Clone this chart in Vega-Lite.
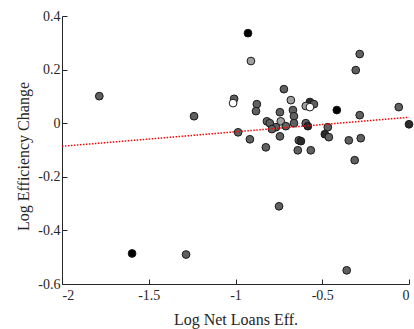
{
  "$schema": "https://vega.github.io/schema/vega-lite/v6.json",
  "width": 347,
  "height": 268,
  "autosize": "none",
  "padding": {"left": 62, "top": 16, "right": 5, "bottom": 45},
  "background": "white",
  "config": {
    "view": {"stroke": null},
    "font": "Liberation Serif",
    "axis": {
      "grid": false,
      "domainColor": "#262626",
      "tickColor": "#262626",
      "labelColor": "#262626",
      "titleColor": "#262626",
      "labelFont": "Liberation Serif",
      "titleFont": "Liberation Serif",
      "labelFontSize": 14,
      "titleFontSize": 16,
      "titleFontWeight": "normal",
      "tickSize": -5,
      "domainWidth": 1,
      "tickWidth": 1
    }
  },
  "datasets": {
    "pts": [
      {"x": -1.785, "y": 0.101, "shade": "mid"},
      {"x": -1.239, "y": 0.026, "shade": "mid"},
      {"x": -1.008, "y": 0.091, "shade": "mid"},
      {"x": -1.014, "y": 0.075, "shade": "white"},
      {"x": -0.985, "y": -0.034, "shade": "mid"},
      {"x": -0.928, "y": 0.336, "shade": "black"},
      {"x": -0.911, "y": 0.232, "shade": "light"},
      {"x": -0.284, "y": 0.258, "shade": "mid"},
      {"x": -0.307, "y": 0.198, "shade": "mid"},
      {"x": -0.721, "y": 0.127, "shade": "mid"},
      {"x": -0.681, "y": 0.086, "shade": "light"},
      {"x": -0.877, "y": 0.071, "shade": "mid"},
      {"x": -0.882, "y": 0.045, "shade": "mid"},
      {"x": -0.571, "y": 0.079, "shade": "dark"},
      {"x": -0.548, "y": 0.071, "shade": "mid"},
      {"x": -0.595, "y": 0.064, "shade": "light"},
      {"x": -0.571, "y": 0.060, "shade": "white"},
      {"x": -0.744, "y": 0.041, "shade": "mid"},
      {"x": -0.669, "y": 0.049, "shade": "mid"},
      {"x": -0.663, "y": 0.026, "shade": "mid"},
      {"x": -0.416, "y": 0.049, "shade": "black"},
      {"x": -0.059, "y": 0.060, "shade": "mid"},
      {"x": -0.284, "y": 0.030, "shade": "mid"},
      {"x": -0.819, "y": 0.007, "shade": "mid"},
      {"x": -0.802, "y": 0.000, "shade": "mid"},
      {"x": -0.739, "y": 0.007, "shade": "light"},
      {"x": -0.767, "y": -0.015, "shade": "mid"},
      {"x": -0.790, "y": -0.022, "shade": "mid"},
      {"x": -0.710, "y": -0.011, "shade": "mid"},
      {"x": -0.663, "y": 0.000, "shade": "mid"},
      {"x": -0.595, "y": 0.000, "shade": "mid"},
      {"x": -0.583, "y": -0.011, "shade": "dark"},
      {"x": -0.468, "y": -0.015, "shade": "mid"},
      {"x": 0.0, "y": -0.004, "shade": "dark"},
      {"x": -0.744, "y": -0.049, "shade": "mid"},
      {"x": -0.485, "y": -0.041, "shade": "dark"},
      {"x": -0.462, "y": -0.052, "shade": "mid"},
      {"x": -0.917, "y": -0.060, "shade": "mid"},
      {"x": -0.635, "y": -0.064, "shade": "mid"},
      {"x": -0.623, "y": -0.067, "shade": "dark"},
      {"x": -0.347, "y": -0.064, "shade": "mid"},
      {"x": -0.278, "y": -0.056, "shade": "mid"},
      {"x": -0.825, "y": -0.090, "shade": "mid"},
      {"x": -0.641, "y": -0.101, "shade": "mid"},
      {"x": -0.566, "y": -0.101, "shade": "mid"},
      {"x": -0.313, "y": -0.138, "shade": "mid"},
      {"x": -0.749, "y": -0.310, "shade": "mid"},
      {"x": -0.359, "y": -0.549, "shade": "mid"},
      {"x": -1.596, "y": -0.486, "shade": "black"},
      {"x": -1.285, "y": -0.490, "shade": "mid"}
    ],
    "fit": [
      {"x": -2, "y": -0.086},
      {"x": 0, "y": 0.022}
    ]
  },
  "layer": [
    {
      "data": {"name": "pts"},
      "mark": {"type": "point", "filled": true, "size": 60, "stroke": "#1a1a1a", "strokeWidth": 1, "opacity": 1},
      "encoding": {
        "x": {
          "field": "x", "type": "quantitative",
          "scale": {"domain": [-2, 0], "nice": false, "zero": false},
          "axis": {
            "title": "Log Net Loans Eff.",
            "values": [-2, -1.5, -1, -0.5, 0],
            "labelExpr": "replace(format(datum.value, '~g'), '\u2212', '-')",
            "labelPadding": 9,
            "titlePadding": 9
          }
        },
        "y": {
          "field": "y", "type": "quantitative",
          "scale": {"domain": [-0.6, 0.4], "nice": false, "zero": false},
          "axis": {
            "title": "Log Efficiency Change",
            "values": [-0.6, -0.4, -0.2, 0, 0.2, 0.4],
            "labelExpr": "replace(format(datum.value, '.1~f'), '\u2212', '-')",
            "labelPadding": 7,
            "titlePadding": 6,
            "titleY": 140
          }
        },
        "fill": {
          "field": "shade", "type": "nominal",
          "scale": {
            "domain": ["black", "dark", "mid", "light", "white"],
            "range": ["#000000", "#2a2a2a", "#606060", "#a0a0a0", "#ffffff"]
          },
          "legend": null
        }
      }
    },
    {
      "data": {"name": "fit"},
      "mark": {"type": "line", "color": "#ff0000", "strokeWidth": 1.5, "strokeDash": [1.5, 1.5]},
      "encoding": {
        "x": {"field": "x", "type": "quantitative"},
        "y": {"field": "y", "type": "quantitative"}
      }
    }
  ]
}
